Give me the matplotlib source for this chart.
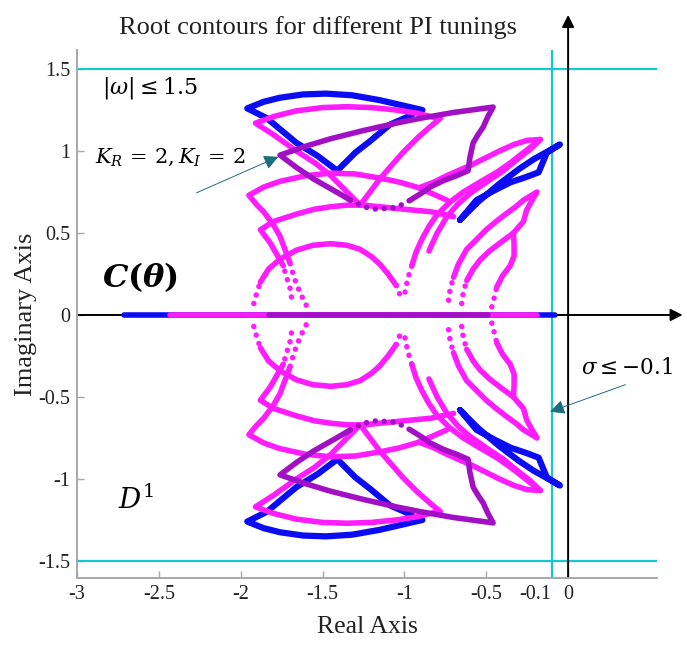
import matplotlib
matplotlib.use('Agg')
import matplotlib.pyplot as plt
from matplotlib.mathtext import MathTextParser

plt.rcParams['font.family'] = ['Liberation Serif', 'DejaVu Serif']
plt.rcParams['mathtext.fontset'] = 'dejavuserif'
plt.rcParams['axes.unicode_minus'] = False

# ---------------- data (upper half; lower half is the complex conjugate) -------------
# blue family
blue_tri_x = [-0.955, -1.09, -1.21, -1.30, -1.41, -1.53, -1.66, -1.84, -1.96,
              -1.86, -1.76, -1.62, -1.48, -1.32, -1.15, -1.02, -0.89]
blue_tri_y = [1.22, 1.16, 1.06, 0.99, 0.88, 0.97, 1.05, 1.20, 1.26,
              1.30, 1.325, 1.345, 1.35, 1.34, 1.31, 1.28, 1.25]
blue_kite_x = [-0.66, -0.55, -0.42, -0.30, -0.21, -0.12, -0.05,
               -0.13, -0.18, -0.26, -0.35, -0.45, -0.56, -0.66]
blue_kite_y = [0.58, 0.69, 0.80, 0.89, 0.95, 1.00, 1.04,
               0.99, 0.87, 0.84, 0.81, 0.76, 0.70, 0.58]
blue_real = [-2.71, -0.08]

# magenta family
mag_tri_x = [-1.27, -1.36, -1.45, -1.55, -1.66, -1.80, -1.91,
             -1.80, -1.66, -1.50, -1.35, -1.20, -1.05, -0.92, -0.80,
             -0.78, -0.84, -0.92, -1.01, -1.08, -1.15, -1.21, -1.27]
mag_tri_y = [0.67, 0.76, 0.85, 0.93, 1.00, 1.10, 1.17,
             1.21, 1.245, 1.265, 1.27, 1.265, 1.25, 1.23, 1.20,
             1.20, 1.15, 1.08, 0.99, 0.91, 0.83, 0.75, 0.67]
mag_arc1_x = [-1.70, -1.73, -1.76, -1.80, -1.86, -1.90, -1.95, -1.86, -1.76, -1.60,
              -1.45, -1.30, -1.15, -1.03, -0.925, -0.83, -0.74]
mag_arc1_y = [0.32, 0.40, 0.48, 0.55, 0.63, 0.67, 0.73, 0.78, 0.815, 0.85,
              0.865, 0.86, 0.835, 0.81, 0.78, 0.74, 0.70]
mag_arc1_dot_x = [-1.60, -1.63, -1.66, -1.68, -1.70]
mag_arc1_dot_y = [0.06, 0.12, 0.19, 0.25, 0.32]
mag_arc2_x = [-1.74, -1.78, -1.82, -1.85, -1.88, -1.80, -1.66, -1.55, -1.45, -1.35,
              -1.25, -1.15, -1.05, -0.95, -0.84, -0.70]
mag_arc2_y = [0.30, 0.37, 0.44, 0.48, 0.52, 0.57, 0.615, 0.645, 0.66, 0.67,
              0.67, 0.66, 0.65, 0.64, 0.63, 0.60]
mag_arc2_dot_x = [-1.69, -1.70, -1.72, -1.74]
mag_arc2_dot_y = [0.11, 0.17, 0.23, 0.30]
mag_semi_x = [-1.88, -1.83, -1.76, -1.66, -1.56, -1.45, -1.35, -1.27, -1.20, -1.15, -1.10, -1.05]
mag_semi_y = [0.20, 0.28, 0.34, 0.395, 0.425, 0.435, 0.425, 0.40, 0.355, 0.31, 0.25, 0.18]
mag_semi_dotl_x = [-1.92, -1.90, -1.88]
mag_semi_dotl_y = [0.07, 0.14, 0.20]
mag_semi_dotr_x = [-1.05, -1.026]
mag_semi_dotr_y = [0.18, 0.12]
mag_r1_x = [-0.955, -0.93, -0.894, -0.85, -0.802, -0.72, -0.64, -0.54, -0.436, -0.35, -0.273, -0.17]
mag_r1_y = [0.30, 0.38, 0.46, 0.54, 0.61, 0.69, 0.75, 0.81, 0.87, 0.93, 0.99, 1.07]
mag_r1_dot_x = [-0.996, -0.98, -0.955]
mag_r1_dot_y = [0.14, 0.22, 0.30]
mag_l1_x = [-0.85, -0.80, -0.74, -0.67, -0.60, -0.50, -0.395, -0.31, -0.232, -0.17]
mag_l1_y = [0.39, 0.50, 0.60, 0.68, 0.74, 0.81, 0.88, 0.95, 1.01, 1.07]
mag_l2_x = [-0.90, -0.82, -0.74, -0.66, -0.58, -0.50, -0.42, -0.33, -0.25, -0.17]
mag_l2_y = [0.78, 0.81, 0.85, 0.885, 0.92, 0.96, 1.00, 1.04, 1.065, 1.07]
mag_f1_x = [-0.70, -0.67, -0.62, -0.56, -0.50, -0.44, -0.375, -0.32, -0.273, -0.19,
            -0.22, -0.253, -0.273, -0.334]
mag_f1_y = [0.23, 0.31, 0.40, 0.46, 0.52, 0.57, 0.62, 0.66, 0.70, 0.75,
            0.70, 0.64, 0.57, 0.50]
mag_f1_dot_x = [-0.73, -0.72, -0.70]
mag_f1_dot_y = [0.09, 0.16, 0.23]
mag_f2_x = [-0.619, -0.58, -0.538, -0.48, -0.415, -0.334]
mag_f2_y = [0.21, 0.28, 0.335, 0.39, 0.44, 0.50]
mag_f2_dot_x = [-0.65, -0.64, -0.619]
mag_f2_dot_y = [0.07, 0.14, 0.21]
mag_f3_x = [-0.436, -0.40, -0.354, -0.33, -0.33, -0.334]
mag_f3_y = [0.17, 0.24, 0.30, 0.36, 0.43, 0.50]
mag_f3_dot_x = [-0.466, -0.45, -0.436]
mag_f3_dot_y = [0.05, 0.11, 0.17]
mag_real = [-2.43, -0.19]

# purple family (K_R = 2, K_I = 2)
pur_x = [-0.965, -0.90, -0.843, -0.76, -0.68, -0.611, -0.60, -0.58, -0.55, -0.519, -0.49, -0.458,
         -0.70, -0.90, -1.05, -1.25, -1.45, -1.60, -1.76,
         -1.66, -1.556, -1.45, -1.38, -1.33]
pur_y = [0.70, 0.74, 0.78, 0.82, 0.85, 0.88, 0.96, 1.05, 1.10, 1.146, 1.21, 1.268,
         1.235, 1.20, 1.17, 1.125, 1.075, 1.03, 0.975,
         0.90, 0.83, 0.77, 0.73, 0.70]
pur_dot_x = [-1.33, -1.25, -1.17, -1.05, -0.965]
pur_dot_y = [0.70, 0.66, 0.645, 0.655, 0.70]
pur_real = [-1.83, -0.49]

x_ticks = [-3, -2.5, -2, -1.5, -1, -0.5, -0.1, 0]
x_tick_labels = ['-3', '-2.5', '-2', '-1.5', '-1', '-0.5', '-0.1', '0']
y_ticks = [-1.5, -1, -0.5, 0, 0.5, 1, 1.5]
y_tick_labels = ['-1.5', '-1', '-0.5', '0', '0.5', '1', '1.5']
omega_max = 1.5
sigma_max = -0.1

BLUE = '#0c0cf2'
MAG = '#ff1cff'
PUR = '#a210c6'
CYAN = '#16c8d2'
TEAL = '#1d6e7c'
LW = 4.0

fig = plt.figure(figsize=(6.87, 6.46), dpi=100)
ax = fig.add_axes([77 / 687, 68 / 646, 580 / 687, 528 / 646])
ax.set_xlim(-3, 0.543)
ax.set_ylim(-1.604, 1.616)

def solid(xs, ys, color, lw=LW):
    for sgn in (1, -1):
        ax.plot(xs, [sgn * v for v in ys], color=color, lw=lw,
                solid_capstyle='round', solid_joinstyle='round', zorder=3)

def dotted(xs, ys, color, lw=LW):
    for sgn in (1, -1):
        ax.plot(xs, [sgn * v for v in ys], color=color, lw=lw,
                linestyle=(0, (0.001, 1.6)), dash_capstyle='round', zorder=3)

# cyan region boundaries
ax.axhline(omega_max, color=CYAN, lw=1.6, zorder=2)
ax.axhline(-omega_max, color=CYAN, lw=1.6, zorder=2)
ax.axvline(sigma_max, color=CYAN, lw=1.6, zorder=2)

# black coordinate axes with arrows
ax.annotate('', xy=(0.70, 0), xytext=(-3, 0), annotation_clip=False,
            arrowprops=dict(arrowstyle='-|>', color='black', lw=1.4,
                            mutation_scale=18, shrinkA=0, shrinkB=0), zorder=2)
ax.annotate('', xy=(0, 1.83), xytext=(0, -1.604), annotation_clip=False,
            arrowprops=dict(arrowstyle='-|>', color='black', lw=1.4,
                            mutation_scale=18, shrinkA=0, shrinkB=0), zorder=2)

# blue
solid(blue_tri_x, blue_tri_y, BLUE, 4.5)
solid(blue_kite_x, blue_kite_y, BLUE, 4.5)
ax.plot(blue_real, [0, 0], color=BLUE, lw=4, solid_capstyle='round', zorder=3)

# magenta
solid(mag_tri_x, mag_tri_y, MAG)
solid(mag_arc1_x, mag_arc1_y, MAG)
dotted(mag_arc1_dot_x, mag_arc1_dot_y, MAG)
solid(mag_arc2_x, mag_arc2_y, MAG)
dotted(mag_arc2_dot_x, mag_arc2_dot_y, MAG)
solid(mag_semi_x, mag_semi_y, MAG)
dotted(mag_semi_dotl_x, mag_semi_dotl_y, MAG)
dotted(mag_semi_dotr_x, mag_semi_dotr_y, MAG)
solid(mag_r1_x, mag_r1_y, MAG)
dotted(mag_r1_dot_x, mag_r1_dot_y, MAG)
solid(mag_l1_x, mag_l1_y, MAG)
solid(mag_l2_x, mag_l2_y, MAG)
solid(mag_f1_x, mag_f1_y, MAG)
dotted(mag_f1_dot_x, mag_f1_dot_y, MAG)
solid(mag_f2_x, mag_f2_y, MAG)
dotted(mag_f2_dot_x, mag_f2_dot_y, MAG)
solid(mag_f3_x, mag_f3_y, MAG)
dotted(mag_f3_dot_x, mag_f3_dot_y, MAG)
ax.plot(mag_real, [0, 0], color=MAG, lw=4, solid_capstyle='round', zorder=3)

# purple
solid(pur_x, pur_y, PUR)
dotted(pur_dot_x, pur_dot_y, PUR)
ax.plot(pur_real, [0, 0], color=PUR, lw=4, solid_capstyle='round', zorder=3)

# axes styling
for s in ('top', 'right'):
    ax.spines[s].set_visible(False)
for s in ('left', 'bottom'):
    ax.spines[s].set_color('#a8a8a8')
    ax.spines[s].set_linewidth(1.4)
ax.set_xticks(x_ticks)
ax.set_xticklabels(x_tick_labels)
ax.set_yticks(y_ticks)
ax.set_yticklabels(y_tick_labels)
ax.tick_params(direction='in', length=5, width=1, color='#a8a8a8',
               labelsize=14.5, labelcolor='#222222', pad=5)
for lab in ax.get_xticklabels():
    if lab.get_text() == '-0.1':
        lab.set_horizontalalignment('right')

ax.set_xlabel('Real Axis', fontsize=18.5, color='#222222', labelpad=9)
ax.set_ylabel('Imaginary Axis', fontsize=19, color='#222222', labelpad=1)
fig.text(0.463, 0.958, 'Root contours for different PI tunings', ha='center',
         va='center', fontsize=19, color='#222222')

# annotations
label_c = r'$\mathbfit{C}\mathbf{(}\mathbfit{\theta}\mathbf{)}$'
try:
    MathTextParser('agg').parse(label_c, dpi=100)
except Exception:
    label_c = r'$\mathcal{C}(\theta)$'

ax.text(-2.85, 1.385, r'$|\omega| \leq 1.5$', fontsize=16, va='center', ha='left')
ax.text(-2.89, 0.96, r'$K_R\,=\,2, K_I\,=\,2$', fontsize=15, va='center', ha='left')
ax.annotate('', xy=(-1.77, 0.965), xytext=(-2.27, 0.745),
            arrowprops=dict(arrowstyle='-|>', color=TEAL, lw=0.7,
                            mutation_scale=22, shrinkA=0, shrinkB=0))
ax.text(-2.85, 0.23, label_c, fontsize=23, va='center', ha='left')
ax.text(-2.75, -1.13, r'$D^1$', fontsize=20, va='center', ha='left')
ax.text(0.08, -0.325, r'$\sigma \leq {-0.1}$', fontsize=15.5, va='center', ha='left')
ax.annotate('', xy=(-0.11, -0.59), xytext=(0.35, -0.425), annotation_clip=False,
            arrowprops=dict(arrowstyle='-|>', color=TEAL, lw=0.7,
                            mutation_scale=22, shrinkA=0, shrinkB=0))

fig.savefig('out.png', dpi=100)
